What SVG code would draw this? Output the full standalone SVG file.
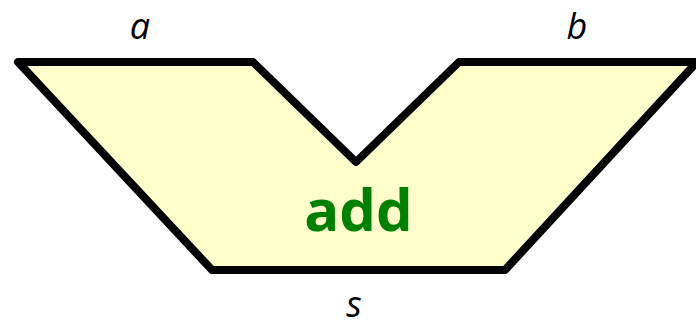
<svg xmlns="http://www.w3.org/2000/svg" width="696" height="331" viewBox="0 0 696 331">
<style>
.shape{fill:#FFFFCC;stroke:#000;stroke-width:8;stroke-linejoin:round}
.lbl{font-family:"Open Sans","Liberation Sans",sans-serif;font-style:italic;font-size:36px;fill:#000;text-anchor:middle}
.op{font-family:"Open Sans","Liberation Sans",sans-serif;font-weight:bold;font-size:58px;fill:#008000;text-anchor:middle}
</style>
<g id="adder">
<polygon class="shape" points="18,62 253,62 356,162 459,62 697,62 505,270 212,270"/>
<text class="op" x="358.5" y="231">add</text>
</g>
<g id="connectors"></g>
<g id="labels">
<text class="lbl" x="140" y="39">a</text>
<text class="lbl" x="577" y="39">b</text>
<text class="lbl" x="354" y="317">s</text>
</g>
</svg>
